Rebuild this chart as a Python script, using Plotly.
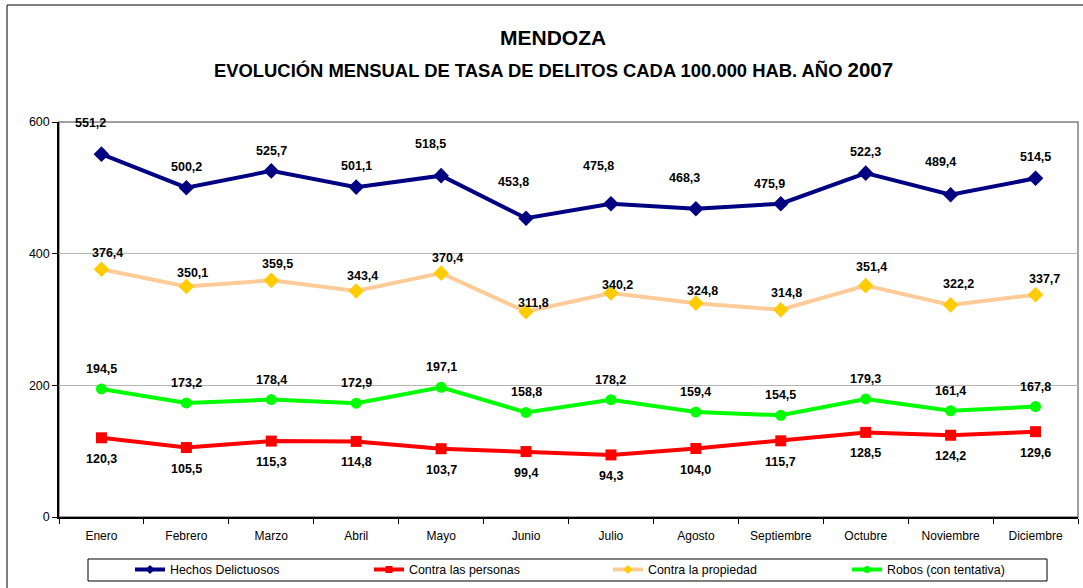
import plotly.graph_objects as go

months = ["Enero", "Febrero", "Marzo", "Abril", "Mayo", "Junio", "Julio",
          "Agosto", "Septiembre", "Octubre", "Noviembre", "Diciembre"]

hechos = [551.2, 500.2, 525.7, 501.1, 518.5, 453.8, 475.8, 468.3, 475.9, 522.3, 489.4, 514.5]
personas = [120.3, 105.5, 115.3, 114.8, 103.7, 99.4, 94.3, 104.0, 115.7, 128.5, 124.2, 129.6]
propiedad = [376.4, 350.1, 359.5, 343.4, 370.4, 311.8, 340.2, 324.8, 314.8, 351.4, 322.2, 337.7]
robos = [194.5, 173.2, 178.4, 172.9, 197.1, 158.8, 178.2, 159.4, 154.5, 179.3, 161.4, 167.8]

y_ticks = [0, 200, 400, 600]

# label placement tweaks (pixels), layout only
hechos_dx = [-11, 0, 0, 0, -11, -13, -12, -11, -11, 0, -10, 0]
hechos_dy = [31, 21, 20, 21, 32, 36, 38, 31, 20, 21, 33, 21]
prop_dx = [6, 6, 6, 6, 6, 7, 7, 7, 6, 6, 8, 9]
prop_dy = [16, 14, 16, 15, 15, 9, 8, 12, 17, 19, 21, 16]
robos_dy = 20
pers_dy = -21

FONT = "Liberation Sans, Arial, sans-serif"

def fmt(v):
    return f"{v:.1f}".replace(".", ",")

fig = go.Figure()

series = [
    ("Hechos Delictuosos", hechos, "#000080", "#000080", "diamond", 12),
    ("Contra las personas", personas, "#FF0000", "#FF0000", "square", 11),
    ("Contra la propiedad", propiedad, "#FFCC99", "#FFCC00", "diamond", 12),
    ("Robos (con tentativa)", robos, "#00FF00", "#00FF00", "circle", 11),
]
for name, vals, lc, mc, sym, ms in series:
    fig.add_trace(go.Scatter(
        x=months, y=vals, name=name, mode="lines+markers",
        line=dict(color=lc, width=4),
        marker=dict(color=mc, symbol=sym, size=ms, line=dict(width=0)),
        hoverinfo="skip", showlegend=False, legendgroup=name,
    ))
# legend entries with small markers, as in the original
for name, vals, lc, mc, sym, ms in series:
    fig.add_trace(go.Scatter(
        x=[None], y=[None], name=name, mode="lines+markers",
        line=dict(color=lc, width=4),
        marker=dict(color=mc, symbol=sym, size=7, line=dict(width=0)),
        hoverinfo="skip", showlegend=True, legendgroup=name,
    ))

annotations = []
def add_labels(vals, dxs, dys):
    for i, v in enumerate(vals):
        annotations.append(dict(
            x=months[i], y=v, xref="x", yref="y", text=fmt(v), showarrow=False,
            xshift=dxs[i], yshift=dys[i], xanchor="center", yanchor="middle",
            font=dict(family=FONT, size=12.5, color="#000000", weight="bold"),
        ))

add_labels(hechos, hechos_dx, hechos_dy)
add_labels(propiedad, prop_dx, prop_dy)
add_labels(robos, [0] * 12, [robos_dy] * 12)
add_labels(personas, [0] * 12, [pers_dy] * 12)

# titles
annotations.append(dict(
    x=0.4848, y=1.2127, xref="paper", yref="paper", showarrow=False,
    xanchor="center", yanchor="middle",
    text="MENDOZA", font=dict(family=FONT, size=21, color="#000000", weight="bold"),
))
annotations.append(dict(
    x=0.4848, y=1.134, xref="paper", yref="paper", showarrow=False,
    xanchor="center", yanchor="middle",
    text="EVOLUCIÓN MENSUAL DE TASA DE DELITOS CADA 100.000 HAB. AÑO <span style='font-size:20.5px'>2007</span>",
    font=dict(family=FONT, size=18.4, color="#000000", weight="bold"),
))

shapes = [
    # outer chart border
    dict(type="rect", xref="paper", yref="paper", x0=-0.051, y0=-0.25, x1=1.02, y1=1.2962,
         line=dict(color="#000000", width=1), fillcolor="rgba(0,0,0,0)", layer="below"),
    # plot area frame
    dict(type="rect", xref="paper", yref="paper", x0=0, y0=0, x1=1, y1=1,
         line=dict(color="#808080", width=1.5), fillcolor="rgba(0,0,0,0)", layer="below"),
    # legend box
    dict(type="rect", xref="paper", yref="paper", x0=0.02846, y0=-0.162, x1=0.9696, y1=-0.1063,
         line=dict(color="#000000", width=1), fillcolor="rgba(0,0,0,0)", layer="below"),
]

fig.update_layout(
    width=1083, height=588,
    margin=dict(l=59, r=5, t=122, b=71, autoexpand=False),
    paper_bgcolor="#FFFFFF", plot_bgcolor="#FFFFFF",
    font=dict(family=FONT, size=12, color="#000000"),
    showlegend=True,
    legend=dict(
        orientation="h", x=0.0697, xanchor="left", y=-0.134, yanchor="middle",
        entrywidth=194, entrywidthmode="pixels",
        font=dict(family=FONT, size=12.4, color="#000000"),
        bgcolor="rgba(0,0,0,0)", borderwidth=0, itemwidth=30,
    ),
    annotations=annotations,
    shapes=shapes,
    xaxis=dict(
        type="category", categoryorder="array", categoryarray=months,
        range=[-0.5, 11.5], showgrid=False, zeroline=False,
        showline=True, linecolor="#000000", linewidth=1.5,
        ticks="outside", ticklen=5, tickcolor="#000000", tickson="boundaries",
        tickfont=dict(family=FONT, size=12, color="#000000"),
        ticklabelstandoff=7,
        fixedrange=True,
    ),
    yaxis=dict(
        range=[0, 600], tickvals=y_ticks, ticktext=[str(t) for t in y_ticks],
        showgrid=True, gridcolor="#B4B4B4", gridwidth=1, zeroline=False,
        showline=True, linecolor="#000000", linewidth=1.5,
        ticks="outside", ticklen=5, tickcolor="#000000",
        tickfont=dict(family=FONT, size=12.5, color="#000000"),
        fixedrange=True,
    ),
)

fig.write_html("out.html", config={"displayModeBar": False},
               post_script="document.body.style.margin='0';document.body.style.overflow='hidden';")
